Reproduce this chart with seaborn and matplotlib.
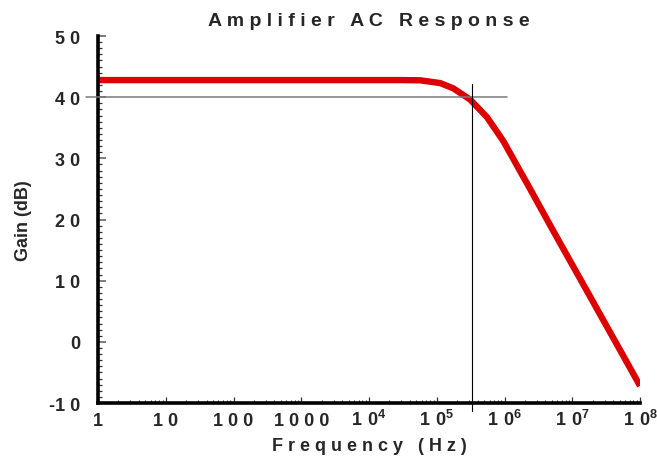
import matplotlib
matplotlib.use("Agg")
import matplotlib.pyplot as plt
from matplotlib.ticker import FixedLocator, FixedFormatter, LogLocator, MultipleLocator, NullFormatter
import seaborn as sns
import pandas as pd

# Measured amplifier gain versus frequency
frequency_hz = [1, 10, 100, 1e3, 1e4, 3e4, 5.7e4, 1.12e5, 1.75e5, 3.1e5, 5.5e5,
                9.6e5, 1.7e6, 2.2e6, 5.2e6, 1.63e7, 5.1e7, 1e8]
gain_db = [42.8, 42.8, 42.8, 42.8, 42.8, 42.8, 42.76, 42.31, 41.45, 39.62, 36.74,
           32.82, 27.9, 25.7, 18.2, 8.4, -1.4, -7.2]

# -3 dB marker lines
marker_gain = 40
marker_freq = 3.3e5
hline_span = [0.66, 1.1e6]
vline_span = [-11.3, 42.1]

x_ticks = [1, 10, 100, 1e3, 1e4, 1e5, 1e6, 1e7, 1e8]
x_tick_labels = ["1", "1 0", "1 0 0", "1 0 0 0", r"$1\ 0^{4}$", r"$1\ 0^{5}$",
                 r"$1\ 0^{6}$", r"$1\ 0^{7}$", r"$1\ 0^{8}$"]
y_ticks = [-10, 0, 10, 20, 30, 40, 50]
y_tick_labels = ["-1 0", "0", "1 0", "2 0", "3 0", "4 0", "5 0"]

sns.set_style("ticks")
plt.rcParams["font.family"] = ["Liberation Sans", "DejaVu Sans"]
plt.rcParams["font.weight"] = "bold"
plt.rcParams["mathtext.fontset"] = "custom"
plt.rcParams["mathtext.rm"] = "Liberation Sans:bold"
plt.rcParams["mathtext.bf"] = "Liberation Sans:bold"
plt.rcParams["mathtext.default"] = "rm"

df = pd.DataFrame({"Frequency": frequency_hz, "Gain": gain_db})

fig = plt.figure(figsize=(6.57, 4.60), dpi=100)
ax = fig.add_axes([0.1492, 0.1217, 0.8250, 0.7978])

sns.lineplot(data=df, x="Frequency", y="Gain", ax=ax, color="#DD0000",
             linewidth=4.6, solid_capstyle="butt", solid_joinstyle="round", zorder=2)

ax.plot(hline_span, [marker_gain, marker_gain], color="#7a7a7a", lw=1.1,
        clip_on=False, zorder=3)
ax.plot([marker_freq, marker_freq], vline_span, color="black", lw=0.8,
        clip_on=False, zorder=3)

ax.set_xscale("log")
ax.set_xlim(1, 1e8)
ax.set_ylim(-10, 50)

ax.xaxis.set_major_locator(FixedLocator(x_ticks))
ax.xaxis.set_major_formatter(FixedFormatter(x_tick_labels))
ax.xaxis.set_minor_locator(LogLocator(base=10, subs=range(2, 10), numticks=20))
ax.xaxis.set_minor_formatter(NullFormatter())
ax.yaxis.set_major_locator(FixedLocator(y_ticks))
ax.yaxis.set_major_formatter(FixedFormatter(y_tick_labels))
ax.yaxis.set_minor_locator(MultipleLocator(1))

for side in ["top", "right"]:
    ax.spines[side].set_visible(False)
for side in ["left", "bottom"]:
    ax.spines[side].set_linewidth(2.6)
    ax.spines[side].set_color("black")

ax.tick_params(axis="y", which="major", direction="in", length=6, width=1.2,
               color="#666666", pad=13, labelsize=13)
ax.tick_params(axis="y", which="minor", direction="in", length=3, width=0.9,
               color="#333333")
ax.tick_params(axis="x", which="major", direction="in", length=4, width=0.9,
               color="#333333", pad=15.5, labelsize=13)
ax.tick_params(axis="x", which="minor", direction="in", length=2.5, width=0.8,
               color="#333333")

for t in ax.xaxis.get_major_ticks():
    t.label1.set_verticalalignment("baseline")

ax.set_xlabel("F r e q u e n c y   ( H z )", fontsize=13, fontweight="bold")
ax.set_ylabel("Gain (dB)", fontsize=13, fontweight="bold")
ax.xaxis.set_label_coords(0.5, -0.093)
ax.yaxis.set_label_coords(-0.121, 0.5)
ax.set_title("A m p l i f i e r   A C   R e s p o n s e", fontsize=14,
             fontweight="bold", pad=8)

fig.savefig("out.png", dpi=100)
